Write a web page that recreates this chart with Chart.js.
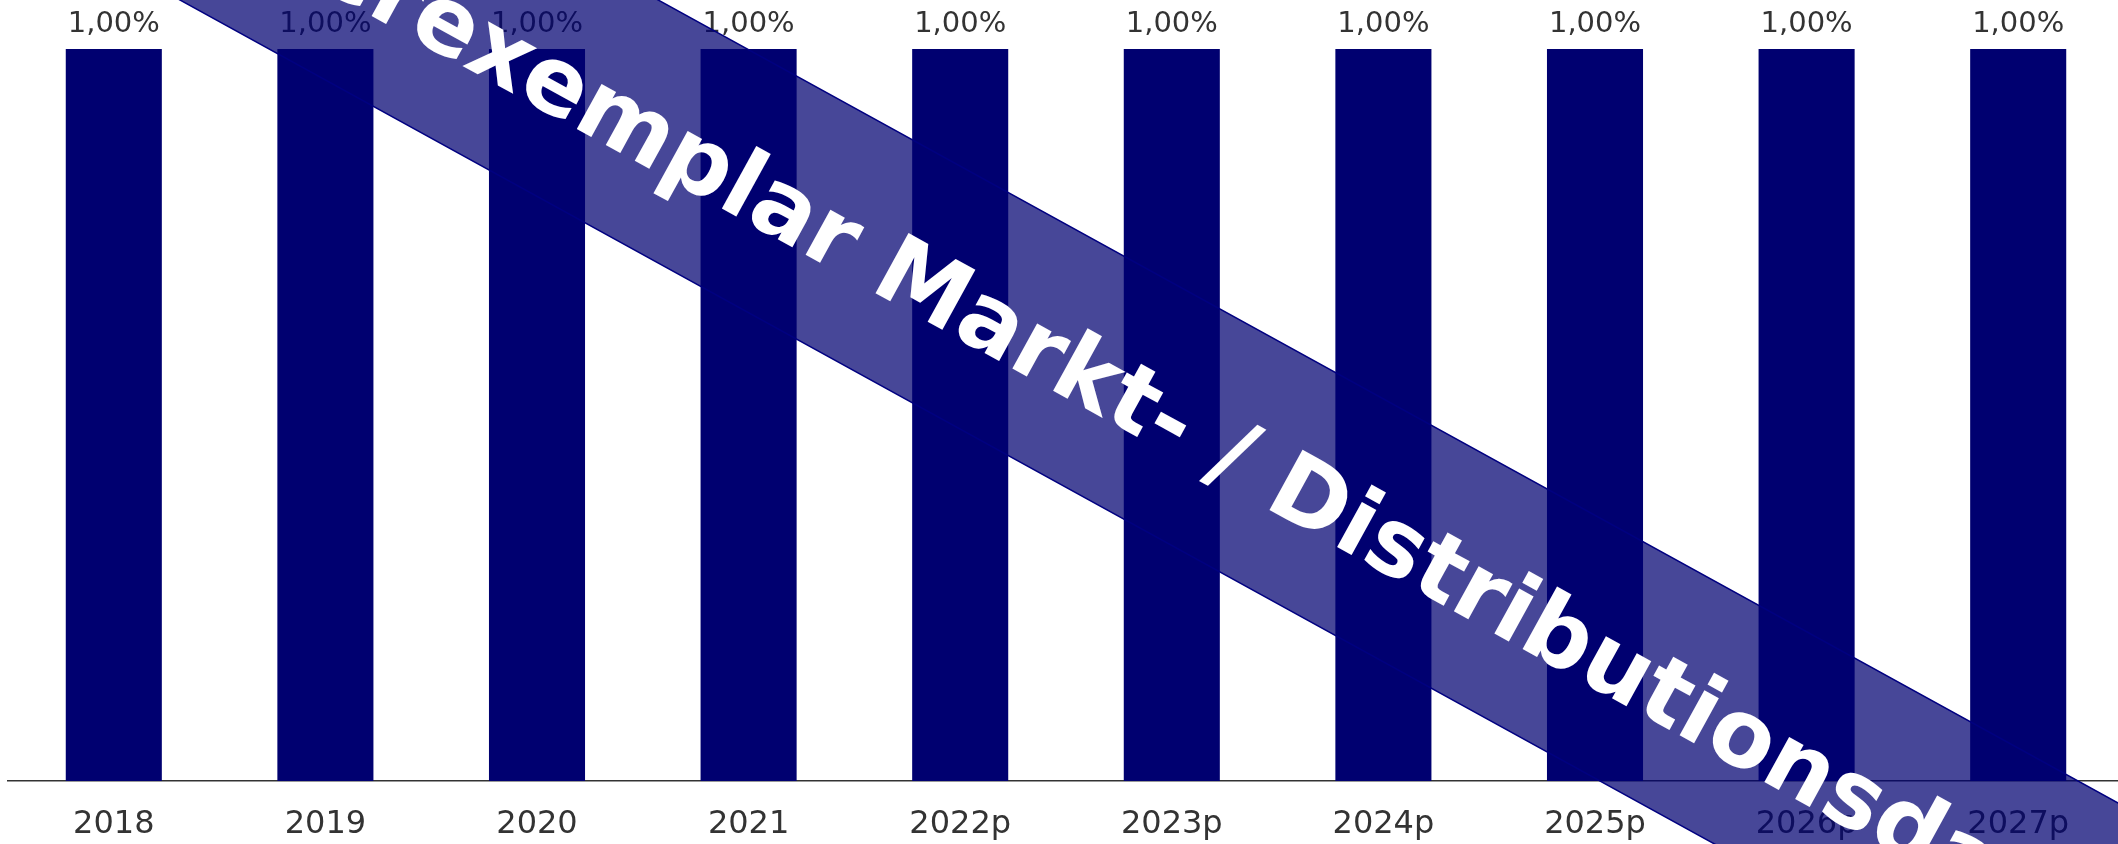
<!DOCTYPE html>
<html>
<head>
<meta charset="utf-8">
<title>Anteil</title>
<script src="https://cdn.jsdelivr.net/npm/chart.js@4/dist/chart.umd.min.js"></script>
<style>
    html, body { margin: 0; padding: 0; background: #fff; overflow: hidden; }
    canvas { display: block; }
</style>
</head>
<body>
<canvas id="share-chart" width="2126" height="869"></canvas>
<script>
// Data
const years = ['2018', '2019', '2020', '2021', '2022p', '2023p', '2024p', '2025p', '2026p', '2027p'];
const shareValues = [1.00, 1.00, 1.00, 1.00, 1.00, 1.00, 1.00, 1.00, 1.00, 1.00];
const watermarkText = 'Musterexemplar Markt- / Distributionsdaten';

// "1,00%" labels on top of the bars
const valueLabels = {
    id: 'valueLabels',
    afterDatasetsDraw(chart) {
        const ctx = chart.ctx;
        const meta = chart.getDatasetMeta(0);
        ctx.save();
        ctx.font = '29px "DejaVu Sans", sans-serif';
        ctx.fillStyle = '#333333';
        ctx.textAlign = 'center';
        ctx.textBaseline = 'alphabetic';
        meta.data.forEach((bar, i) => {
            const label = shareValues[i].toFixed(2).replace('.', ',') + '%';
            ctx.fillText(label, bar.x, bar.y - 17);
        });
        ctx.restore();
    }
};

// Diagonal sample banner over the whole picture
const watermark = {
    id: 'watermark',
    afterDraw(chart) {
        const ctx = chart.ctx;
        const slope = 0.55;
        const angle = Math.atan(slope);
        const upper = x => slope * x - 362;
        const lower = x => slope * x - 99;
        const x0 = -50, x1 = 2300;

        ctx.save();
        ctx.beginPath();
        ctx.moveTo(x0, upper(x0));
        ctx.lineTo(x1, upper(x1));
        ctx.lineTo(x1, lower(x1));
        ctx.lineTo(x0, lower(x0));
        ctx.closePath();
        ctx.fillStyle = 'rgba(0, 0, 112, 0.72)';
        ctx.fill();

        ctx.strokeStyle = '#000080';
        ctx.lineWidth = 1.5;
        ctx.beginPath();
        ctx.moveTo(x0, upper(x0));
        ctx.lineTo(x1, upper(x1));
        ctx.moveTo(x0, lower(x0));
        ctx.lineTo(x1, lower(x1));
        ctx.stroke();

        // text, placed so that "Markt" starts where it does in the original
        ctx.translate(868, 289);
        ctx.rotate(angle);
        ctx.font = 'bold 94px "DejaVu Sans", sans-serif';
        ctx.fillStyle = '#ffffff';
        ctx.textAlign = 'left';
        ctx.textBaseline = 'alphabetic';
        const lead = ctx.measureText('Musterexemplar ').width;
        ctx.fillText(watermarkText, -lead, 0);
        ctx.restore();
    }
};

const shareCanvas = document.getElementById('share-chart');
if (shareCanvas) {
    const ctx = shareCanvas.getContext('2d');
    const shareChart = new Chart(ctx, {
        type: 'bar',
        data: {
            labels: years,
            datasets: [{
                data: shareValues,
                backgroundColor: '#000070',
                borderWidth: 0,
                barPercentage: 0.454,
                categoryPercentage: 1
            }]
        },
        options: {
            responsive: false,
            animation: false,
            devicePixelRatio: 1,
            layout: {
                padding: { top: 49, left: 8, right: 2, bottom: 1.6 }
            },
            plugins: {
                legend: { display: false },
                tooltip: { enabled: false }
            },
            scales: {
                x: {
                    z: 1,
                    grid: { display: false, drawTicks: false },
                    border: { display: true, color: '#333333', width: 1.5 },
                    ticks: {
                        color: '#333333',
                        padding: 24,
                        font: { family: '"DejaVu Sans", sans-serif', size: 32 }
                    }
                },
                y: {
                    display: false,
                    min: 0,
                    max: 1
                }
            }
        },
        plugins: [valueLabels, watermark]
    });
}
</script>
</body>
</html>
